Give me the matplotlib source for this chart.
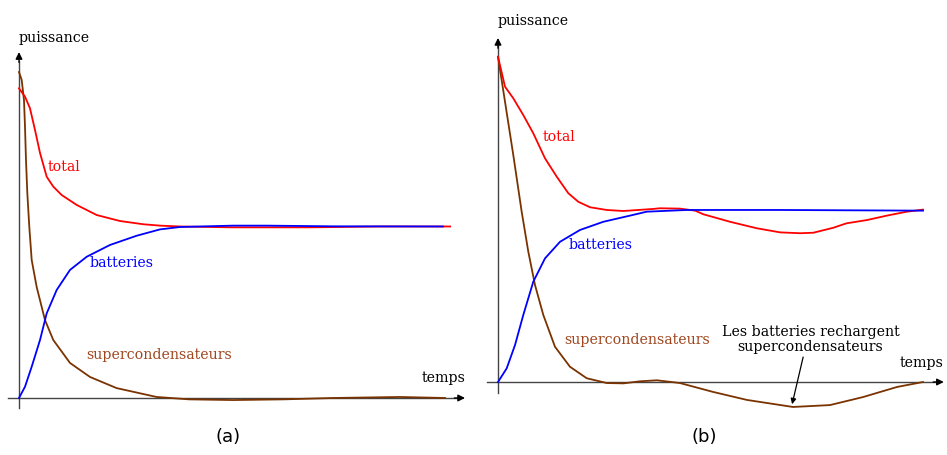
import matplotlib
matplotlib.use("Agg")
import matplotlib.pyplot as plt

# --- donnees (t : temps, p : puissance, regime etabli = 1) ---
# (a)
t_total_a = [0, 0.141, 0.258, 0.376, 0.493, 0.650, 0.805, 1.002, 1.354, 1.824, 2.371, 2.918, 3.31, 3.78,
             5.0, 6.83, 8.5, 10.12]
p_total_a = [1.811, 1.762, 1.694, 1.567, 1.433, 1.294, 1.236, 1.187, 1.129, 1.070, 1.035, 1.016, 1.008, 1.003,
             0.998, 0.998, 1.003, 1.003]

t_batt_a = [0, 0.141, 0.298, 0.493, 0.650, 0.885, 1.197, 1.589, 2.136, 2.763, 3.310, 3.78, 5.02, 5.82, 7.37, 9.95]
p_batt_a = [0, 0.066, 0.183, 0.339, 0.495, 0.632, 0.749, 0.826, 0.895, 0.949, 0.986, 1.0, 1.008, 1.008, 1.004, 1.003]

t_super_a = [0, 0.063, 0.117, 0.141, 0.164, 0.195, 0.242, 0.298, 0.415, 0.610, 0.805, 1.197, 1.667, 2.29,
             3.23, 4.0, 5.02, 6.2, 7.37, 8.94, 10.0]
p_super_a = [1.906, 1.860, 1.743, 1.585, 1.392, 1.199, 1.0, 0.807, 0.649, 0.456, 0.339, 0.205, 0.123, 0.058,
             0.006, -0.008, -0.012, -0.008, 0.0, 0.006, 0.0]

# (b)
t_total_b = [0, 0.165, 0.36, 0.595, 0.831, 1.106, 1.381, 1.654, 1.889, 2.165, 2.558, 2.95, 3.18, 3.65, 3.81,
             4.28, 4.64, 4.83, 5.46, 6.09, 6.64, 7.11, 7.42, 7.89, 8.20, 8.68, 9.15, 9.62, 10.0]
p_total_b = [1.902, 1.727, 1.659, 1.561, 1.454, 1.308, 1.201, 1.104, 1.054, 1.022, 1.006, 1.0, 1.004, 1.012, 1.016,
             1.014, 1.002, 0.981, 0.937, 0.899, 0.875, 0.870, 0.873, 0.902, 0.928, 0.947, 0.973, 0.996, 1.008]

t_batt_b = [0, 0.205, 0.4, 0.595, 0.831, 1.106, 1.459, 1.929, 2.478, 3.106, 3.50, 4.44, 6.64, 10.0]
p_batt_b = [0, 0.08, 0.216, 0.392, 0.587, 0.723, 0.820, 0.889, 0.937, 0.973, 0.996, 1.006, 1.006, 1.002]

t_super_b = [0, 0.165, 0.36, 0.557, 0.713, 0.871, 1.066, 1.341, 1.694, 2.087, 2.558, 2.95, 3.34, 3.74, 4.28,
             5.06, 5.86, 6.94, 7.81, 8.59, 9.39, 10.0]
p_super_b = [1.902, 1.639, 1.327, 0.996, 0.762, 0.567, 0.392, 0.206, 0.089, 0.022, -0.006, -0.008, 0.004, 0.010,
             -0.006, -0.058, -0.105, -0.146, -0.135, -0.088, -0.029, 0.0]

ROUGE = "#ff0000"
BLEU = "#0000ff"
BRUN = "#7a3300"
BRUN_TXT = "#a0461e"
GRIS = "#444444"

W, H = 947, 455
fig = plt.figure(figsize=(W / 100, H / 100), dpi=100)

serif = "DejaVu Serif"
fs = 10.2


def panneau(x0, y0, sx, sy, xlim, ylim):
    # x0, y0 : origine en pixels (y depuis le haut) ; sx, sy : pixels par unite
    left = x0 + xlim[0] * sx
    right = x0 + xlim[1] * sx
    top = y0 - ylim[1] * sy
    bottom = y0 - ylim[0] * sy
    ax = fig.add_axes([left / W, (H - bottom) / H, (right - left) / W, (bottom - top) / H])
    ax.set_xlim(*xlim)
    ax.set_ylim(*ylim)
    ax.axis("off")
    return ax


def axes_fleches(ax, xmin, xmax, ymin, ymax):
    ax.plot([0, 0], [ymin, ymax - 0.05], color=GRIS, lw=1.0, zorder=1)
    ax.plot([xmin, xmax - 0.2], [0, 0], color=GRIS, lw=1.0, zorder=1)
    ax.annotate("", xy=(0, ymax), xytext=(0, ymax - 0.06),
                arrowprops=dict(arrowstyle="-|>", color="black", lw=1.0,
                                mutation_scale=10, shrinkA=0, shrinkB=0))
    ax.annotate("", xy=(xmax, 0), xytext=(xmax - 0.25, 0),
                arrowprops=dict(arrowstyle="-|>", color="black", lw=1.0,
                                mutation_scale=10, shrinkA=0, shrinkB=0))


# ---------- (a) ----------
axa = panneau(19, 398, 42.6, 171, (-0.4, 10.9), (-0.3, 2.25))
axes_fleches(axa, -0.26, 10.47, -0.058, 2.023)
axa.plot(t_total_a, p_total_a, color=ROUGE, lw=1.3, zorder=3)
axa.plot(t_batt_a, p_batt_a, color=BLEU, lw=1.3, zorder=3)
axa.plot(t_super_a, p_super_a, color=BRUN, lw=1.3, zorder=2)

axa.text(-0.02, 2.08, "puissance", family=serif, fontsize=fs, ha="left", va="baseline")
axa.text(10.47, 0.095, "temps", family=serif, fontsize=fs, ha="right", va="baseline")
axa.text(0.68, 1.35, "total", family=serif, fontsize=fs, color=ROUGE, ha="left", va="center")
axa.text(1.65, 0.79, "batteries", family=serif, fontsize=fs, color=BLEU, ha="left", va="center")
axa.text(1.57, 0.25, "supercondensateurs", family=serif, fontsize=fs, color=BRUN_TXT,
         ha="left", va="center")
axa.text(4.9, -0.23, "(a)", family="DejaVu Sans", fontsize=13, ha="center", va="center")

# ---------- (b) ----------
axb = panneau(498, 382, 42.5, 171, (-0.4, 10.9), (-0.4, 2.2))
axes_fleches(axb, -0.26, 10.49, -0.064, 2.012)
axb.plot(t_total_b, p_total_b, color=ROUGE, lw=1.3, zorder=3)
axb.plot(t_batt_b, p_batt_b, color=BLEU, lw=1.3, zorder=3)
axb.plot(t_super_b, p_super_b, color=BRUN, lw=1.3, zorder=2)

axb.text(0.0, 2.088, "puissance", family=serif, fontsize=fs, ha="left", va="baseline")
axb.text(10.49, 0.089, "temps", family=serif, fontsize=fs, ha="right", va="baseline")
axb.text(1.06, 1.43, "total", family=serif, fontsize=fs, color=ROUGE, ha="left", va="center")
axb.text(1.67, 0.80, "batteries", family=serif, fontsize=fs, color=BLEU, ha="left", va="center")
axb.text(1.57, 0.245, "supercondensateurs", family=serif, fontsize=fs, color=BRUN_TXT,
         ha="left", va="center")
axb.text(7.35, 0.25, "Les batteries rechargent\nsupercondensateurs", family=serif, fontsize=fs,
         ha="center", va="center", linespacing=1.05)
axb.annotate("", xy=(6.92, -0.13), xytext=(7.18, 0.146),
             arrowprops=dict(arrowstyle="-|>", color="black", lw=0.9, mutation_scale=8,
                             shrinkA=0, shrinkB=0))
axb.text(4.85, -0.32, "(b)", family="DejaVu Sans", fontsize=13, ha="center", va="center")

fig.savefig("out.png", dpi=100)
